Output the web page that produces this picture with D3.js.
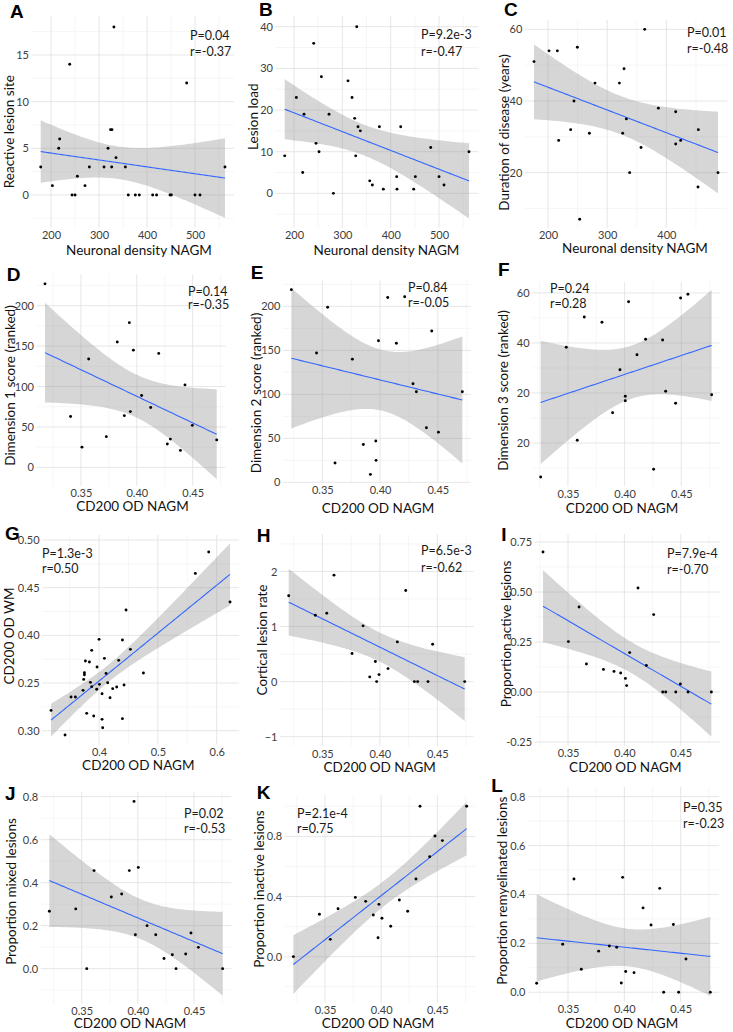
<!DOCTYPE html>
<html>
<head>
<meta charset="utf-8">
<script src="https://cdn.jsdelivr.net/npm/d3@7"></script>
<style>
  body { margin: 0; background: #fff; }
  svg text { font-family: Lato, "Open Sans", sans-serif; }
</style>
</head>
<body>
<svg id="fig" width="733" height="1032"></svg>
<script>
// --- values ---
const aX = [178.5, 202.8, 216, 218, 238.9, 243.8, 250, 254.9, 270.8, 279.9, 310.4, 318.8, 324, 327, 326.4, 331, 335.4, 354.9, 361, 375.7, 384, 411.8, 420, 448, 450.7, 482.6, 500, 510.4, 562.5];
const aY = [3, 1, 5, 6, 14, 0, 0, 2, 1, 3, 3, 5, 7, 7, 3, 18, 4, 3, 0, 0, 0, 0, 0, 0, 0, 12, 0, 0, 3];

const bX = [180.7, 204.8, 217.9, 220.7, 240.7, 245.5, 251.7, 256.6, 272.4, 281.4, 311.7, 320, 325.5, 327.6, 329.7, 332.4, 337.2, 356.6, 362.1, 376.6, 384.8, 412.4, 413.1, 420.7, 447.6, 451, 482.8, 500, 510.3, 562];
const bY = [9, 23, 5, 19, 36, 12, 10, 28, 19, 0, 27, 23, 18, 9, 40, 16, 15, 3, 2, 16, 1, 4, 1, 16, 1, 4, 11, 4, 2, 10];

const cX = [176.3, 201.7, 215.8, 218, 238.3, 243.9, 249.6, 253.5, 269.9, 279.4, 320.6, 326.2, 328.5, 332.4, 338, 357.2, 363.4, 386.5, 415.8, 415.8, 424.2, 453.5, 454.1, 487.3];
const cY = [51, 54, 54, 29, 32, 40, 55, 7, 31, 45, 45, 31, 49, 35, 20, 27, 60, 38, 37, 28, 29, 16, 32, 20];

const dX = [0.3178, 0.3407, 0.3509, 0.3569, 0.3727, 0.3825, 0.3888, 0.3933, 0.3942, 0.3969, 0.4043, 0.4124, 0.4196, 0.4273, 0.43, 0.439, 0.4431, 0.4497, 0.4715];
const dY = [227, 63, 25, 134, 38, 155, 64, 179, 69, 145, 89, 74, 141, 29, 35, 21, 102, 52, 34];

const eX = [0.3232, 0.345, 0.3546, 0.361, 0.376, 0.3855, 0.3916, 0.3963, 0.3965, 0.3986, 0.4066, 0.4141, 0.4213, 0.4285, 0.4314, 0.4401, 0.4447, 0.4505, 0.4712];
const eY = [219, 147, 199, 22, 140, 43, 9, 47, 25, 161, 210, 158, 211, 112, 103, 62, 172, 57, 103];

const fX = [0.3259, 0.3485, 0.3582, 0.3644, 0.38, 0.3894, 0.3959, 0.4006, 0.4006, 0.4035, 0.4109, 0.4185, 0.4256, 0.4335, 0.4362, 0.445, 0.4494, 0.4559, 0.4768];
const fY = [-13.6, 38.3, 1.1, 50.4, 48.3, 12.1, 29.3, 18.7, 16.9, 56.5, 35.3, 41.5, -10.5, 41.2, 20.7, 15.9, 58, 59.5, 19.3];

const gX = [0.3184, 0.3422, 0.3524, 0.3598, 0.3728, 0.3739, 0.3751, 0.3751, 0.3768, 0.379, 0.3836, 0.3853, 0.3875, 0.3875, 0.3909, 0.396, 0.3966, 0.4, 0.4006, 0.4051, 0.4051, 0.4062, 0.4091, 0.4119, 0.4147, 0.4187, 0.4232, 0.43, 0.4334, 0.4397, 0.4397, 0.4425, 0.4459, 0.4533, 0.4754, 0.5637, 0.5864, 0.6227];
const gY = [0.3213, 0.2955, 0.3353, 0.3353, 0.3423, 0.3538, 0.3587, 0.3608, 0.3731, 0.3182, 0.372, 0.3507, 0.3462, 0.3843, 0.3154, 0.3434, 0.3668, 0.3958, 0.3486, 0.3388, 0.3119, 0.3031, 0.3759, 0.3601, 0.3503, 0.3346, 0.3441, 0.3458, 0.3738, 0.3126, 0.3951, 0.3479, 0.4266, 0.3853, 0.3605, 0.465, 0.4874, 0.435];

const hX = [0.3207, 0.3439, 0.3538, 0.3601, 0.3758, 0.3854, 0.3912, 0.3961, 0.3972, 0.3993, 0.4071, 0.4152, 0.4225, 0.43, 0.4329, 0.4419, 0.4459, 0.4738];
const hY = [1.558, 1.206, 1.242, 1.933, 0.509, 1.012, 0.085, 0.364, 0, 0.127, 0.236, 0.721, 1.655, 0, 0, 0, 0.679, 0];

const iX = [0.3278, 0.3503, 0.3598, 0.3663, 0.3814, 0.3908, 0.3967, 0.4009, 0.402, 0.4047, 0.4121, 0.4195, 0.426, 0.434, 0.4367, 0.4456, 0.4497, 0.4565, 0.4772];
const iY = [0.70, 0.252, 0.425, 0.14, 0.113, 0.103, 0.095, 0.068, 0.032, 0.197, 0.52, 0.133, 0.387, 0, 0, 0, 0.04, 0, 0];

const jX = [0.3212, 0.3447, 0.3545, 0.361, 0.3764, 0.3856, 0.3924, 0.3966, 0.3978, 0.4004, 0.4082, 0.4159, 0.4233, 0.4307, 0.434, 0.4426, 0.4473, 0.4539, 0.4755];
const jY = [0.267, 0.278, 0, 0.456, 0.333, 0.347, 0.456, 0.778, 0.158, 0.471, 0.2, 0.158, 0.047, 0.065, 0, 0.068, 0.166, 0.099, 0];

const kX = [0.3218, 0.345, 0.3547, 0.3616, 0.377, 0.3862, 0.393, 0.3972, 0.398, 0.4007, 0.4085, 0.4162, 0.4236, 0.431, 0.4346, 0.4432, 0.4479, 0.4545, 0.4761];
const kY = [0, 0.282, 0.115, 0.319, 0.394, 0.368, 0.277, 0.126, 0.348, 0.255, 0.202, 0.377, 0.302, 0.517, 1.0, 0.665, 0.803, 0.772, 1.0];

const lX = [0.3222, 0.3453, 0.3553, 0.3618, 0.3772, 0.3867, 0.3932, 0.3973, 0.3985, 0.4012, 0.4086, 0.4166, 0.4237, 0.4314, 0.4349, 0.4435, 0.4482, 0.4547, 0.4763];
const lY = [0.037, 0.196, 0.463, 0.094, 0.168, 0.189, 0.184, 0.038, 0.47, 0.085, 0.08, 0.345, 0.275, 0.425, 0, 0.277, 0, 0.136, 0];

// --- tick values and labels ---
const densityTicks = [200, 300, 400, 500];
const densityTicksC = [200, 300, 400];
const nagmTicks = [0.35, 0.40, 0.45];
const nagmLabels = ["0.35", "0.40", "0.45"];
const gxTicks = [0.4, 0.5, 0.6];
const gxLabels = ["0.4", "0.5", "0.6"];
const gyTicks = [0.30, 0.35, 0.40, 0.45, 0.50];
const gyLabels = ["0.30", "0.25", "0.40", "0.45", "0.50"];
const fyTicks = [0, 20, 40, 60];
const fyLabels = ["20", "20", "40", "60"];
const iyTicks = [-0.25, 0, 0.25, 0.5, 0.75];
const iyLabels = ["-0.25", "0.00", "0.25", "0.50", "0.75"];
const propTicks = [0, 0.2, 0.4, 0.6, 0.8];
const propLabels = ["0.0", "0.2", "0.4", "0.6", "0.8"];
const kyTicks = [0, 0.4, 0.8];
const kyLabels = ["0.0", "0.4", "0.8"];

const letters = ["A", "B", "C", "D", "E", "F", "G", "H", "I", "J", "K", "L"];
const yTitles = ["Reactive lesion site", "Lesion load", "Duration of disease (years)",
  "Dimension 1 score (ranked)", "Dimension 2 score (ranked)", "Dimension 3 score (ranked)",
  "CD200 OD WM", "Cortical lesion rate", "Proportion active lesions",
  "Proportion mixed lesions", "Proportion inactive lesions", "Proportion remyelinated lesions"];
const pValues = ["P=0.04", "P=9.2e-3", "P=0.01", "P=0.14", "P=0.84", "P=0.24",
  "P=1.3e-3", "P=6.5e-3", "P=7.9e-4", "P=0.02", "P=2.1e-4", "P=0.35"];
const rValues = ["r=-0.37", "r=-0.47", "r=-0.48", "r=-0.35", "r=-0.05", "r=0.28",
  "r=0.50", "r=-0.62", "r=-0.70", "r=-0.53", "r=0.75", "r=-0.23"];

// layout of each small plot: box = [left, top, right, bottom]
const panels = [
  { xs: aX, ys: aY, box: [31.5, 15.7, 234.2, 228], yDom: [-3.54, 19.21], xt: densityTicks, yt: [0, 5, 10, 15],
    xTitle: "Neuronal density NAGM", letter: [10, 18.3], stat: [190, 36, 51.7], yT: [9.5, 131.7], xT: [139, 250] },
  { xs: bX, ys: bY, box: [275.5, 15.7, 478.2, 228], yDom: [-8.32, 42.64], xt: densityTicks, yt: [0, 10, 20, 30, 40],
    xTitle: "Neuronal density NAGM", letter: [259, 16], stat: [421, 34.3, 51.7], yT: [253, 116.7], xT: [386.5, 250] },
  { xs: cX, ys: cY, box: [524.8, 19.9, 727.2, 228.1], yDom: [4.52, 62.64], xt: densityTicksC, yt: [20, 40, 60],
    xTitle: "Neuronal density NAGM", letter: [504, 16], stat: [687, 32.7, 48.3], yT: [504, 132.5], xT: [635, 248.5] },
  { xs: dX, ys: dY, box: [36.4, 274.4, 225.3, 486], yDom: [-23.03, 238.7], xt: nagmTicks, xl: nagmLabels, yt: [0, 50, 100, 150, 200],
    xTitle: "CD200 OD NAGM", letter: [6.7, 281.3], stat: [188, 291.3, 304.7], yT: [10.5, 385.5], xT: [132.5, 506.5] },
  { xs: eX, ys: eY, box: [282.8, 280.5, 470.9, 483.2], yDom: [-1.0, 229.4], xt: nagmTicks, xl: nagmLabels, yt: [0, 50, 100, 150, 200],
    xTitle: "CD200 OD NAGM", letter: [250.7, 278.7], stat: [408, 288, 302.3], yT: [256.5, 393], xT: [378, 508] },
  { xs: fX, ys: fY, box: [532.1, 282, 720.2, 486.3], yDom: [-17.31, 64.38], xt: nagmTicks, xl: nagmLabels, yt: fyTicks, yl: fyLabels,
    xTitle: "CD200 OD NAGM", letter: [498, 276.3], stat: [550, 289, 304], yT: [503, 390.5], xT: [622, 508] },
  { xs: gX, ys: gY, box: [42.1, 534.8, 239, 744.5], yDom: [0.2855, 0.5055], xt: gxTicks, xl: gxLabels, yt: gyTicks, yl: gyLabels,
    xTitle: "CD200 OD NAGM", letter: [5, 540], stat: [42, 553.7, 568.7], yT: [9.3, 636], xT: [138.3, 765] },
  { xs: hX, ys: hY, box: [279.9, 534.3, 473.5, 746.3], yDom: [-1.175, 2.675], xt: nagmTicks, xl: nagmLabels, yt: [-1, 0, 1, 2],
    xTitle: "CD200 OD NAGM", letter: [256.7, 542], stat: [421, 551, 567.7], yT: [262, 640], xT: [379.7, 767] },
  { xs: iX, ys: iY, box: [534.6, 534, 719.8, 746], yDom: [-0.27, 0.79], xt: nagmTicks, xl: nagmLabels, yt: iyTicks, yl: iyLabels,
    xTitle: "CD200 OD NAGM", letter: [501.3, 541], stat: [667, 553.7, 569.3], yT: [506, 634], xT: [625.3, 767] },
  { xs: jX, ys: jY, box: [40.7, 791.7, 231.3, 1003.7], yDom: [-0.163, 0.823], xt: nagmTicks, xl: nagmLabels, yt: propTicks, yl: propLabels,
    xTitle: "CD200 OD NAGM", letter: [5, 800], stat: [184, 814, 828.3], yT: [11, 891.5], xT: [130, 1023.5] },
  { xs: kX, ys: kY, box: [284.7, 794.9, 475.3, 1002.8], yDom: [-0.307, 1.076], xt: nagmTicks, xl: nagmLabels, yt: kyTicks, yl: kyLabels,
    xTitle: "CD200 OD NAGM", letter: [256.7, 799], stat: [297, 814, 828.3], yT: [259, 889], xT: [378, 1023.5] },
  { xs: lX, ys: lY, box: [528, 786.9, 719, 1002], yDom: [-0.04, 0.84], xt: nagmTicks, xl: nagmLabels, yt: propTicks, yl: propLabels,
    xTitle: "CD200 OD NAGM", letter: [491.3, 792.3], stat: [683, 807.3, 823.3], yT: [502, 890.7], xT: [622, 1023.5] }
];

// Student t quantile (0.975) by Cornish-Fisher expansion
function tQuant(df) {
  const z = 1.959964;
  const g1 = (z ** 3 + z) / 4;
  const g2 = (5 * z ** 5 + 16 * z ** 3 + 3 * z) / 96;
  const g3 = (3 * z ** 7 + 19 * z ** 5 + 17 * z ** 3 - 15 * z) / 384;
  return z + g1 / df + g2 / df ** 2 + g3 / df ** 3;
}

// linear fit with 95% confidence band, like geom_smooth(method = "lm")
function lmFit(xs, ys) {
  const n = xs.length;
  const mx = d3.mean(xs), my = d3.mean(ys);
  let sxx = 0, sxy = 0;
  xs.forEach((x, i) => { sxx += (x - mx) ** 2; sxy += (x - mx) * (ys[i] - my); });
  const b = sxy / sxx, a = my - b * mx;
  const sse = d3.sum(xs, (x, i) => (ys[i] - a - b * x) ** 2);
  const s = Math.sqrt(sse / (n - 2));
  const t = tQuant(n - 2);
  const [x0, x1] = d3.extent(xs);
  return d3.range(80).map(k => {
    const x = x0 + (x1 - x0) * k / 79;
    const yh = a + b * x;
    const se = s * Math.sqrt(1 / n + (x - mx) ** 2 / sxx);
    return { x: x, y: yh, lo: yh - t * se, hi: yh + t * se };
  });
}

function minorTicks(ticks, dom) {
  const step = ticks[1] - ticks[0];
  const out = [];
  for (let k = -1; k < ticks.length; k++) {
    const v = (k < 0 ? ticks[0] : ticks[k]) + (k < 0 ? -step / 2 : step / 2);
    if (v > dom[0] && v < dom[1]) out.push(v);
  }
  return out;
}

const svg = d3.select("#fig");

panels.forEach((p, idx) => {
  const [left, top, right, bottom] = p.box;
  const ext = d3.extent(p.xs);
  const pad = (ext[1] - ext[0]) * 0.05;
  const x = d3.scaleLinear().domain([ext[0] - pad, ext[1] + pad]).range([left, right]);
  const y = d3.scaleLinear().domain(p.yDom).range([bottom, top]);

  const g = svg.append("g").attr("class", `panel_${letters[idx]}`);
  const clipId = `clip_${idx}`;
  g.append("clipPath").attr("id", clipId)
    .append("rect").attr("x", left).attr("y", top)
    .attr("width", right - left).attr("height", bottom - top);

  // grid
  const grid = g.append("g");
  grid.selectAll(".xmin").data(minorTicks(p.xt, x.domain())).join("line")
    .attr("x1", d => x(d)).attr("x2", d => x(d)).attr("y1", top).attr("y2", bottom)
    .style("stroke", "#f0f0f0").style("stroke-width", 0.6);
  grid.selectAll(".ymin").data(minorTicks(p.yt, p.yDom)).join("line")
    .attr("y1", d => y(d)).attr("y2", d => y(d)).attr("x1", left).attr("x2", right)
    .style("stroke", "#f0f0f0").style("stroke-width", 0.6);
  grid.selectAll(".xmaj").data(p.xt).join("line")
    .attr("x1", d => x(d)).attr("x2", d => x(d)).attr("y1", top).attr("y2", bottom)
    .style("stroke", "#e3e3e3").style("stroke-width", 0.9);
  grid.selectAll(".ymaj").data(p.yt).join("line")
    .attr("y1", d => y(d)).attr("y2", d => y(d)).attr("x1", left).attr("x2", right)
    .style("stroke", "#e3e3e3").style("stroke-width", 0.9);

  // smooth
  const fit = lmFit(p.xs, p.ys);
  const body = g.append("g").attr("clip-path", `url(#${clipId})`);
  body.append("path").datum(fit)
    .attr("d", d3.area().x(d => x(d.x)).y0(d => y(d.lo)).y1(d => y(d.hi)))
    .style("fill", "#999999").style("fill-opacity", 0.4);
  body.append("path").datum(fit)
    .attr("d", d3.line().x(d => x(d.x)).y(d => y(d.y)))
    .style("fill", "none").style("stroke", "#3366FF").style("stroke-width", 1.1);

  // points
  g.selectAll("circle").data(p.xs.map((v, i) => [v, p.ys[i]])).join("circle")
    .attr("cx", d => x(d[0])).attr("cy", d => y(d[1])).attr("r", 1.45)
    .style("fill", "#000");

  // axes (labels only)
  const xAxis = d3.axisBottom(x).tickValues(p.xt).tickSize(0).tickPadding(3.5);
  if (p.xl) xAxis.tickFormat((d, i) => p.xl[i]);
  const xg = g.append("g").attr("transform", `translate(0,${bottom})`).call(xAxis);
  const yAxis = d3.axisLeft(y).tickValues(p.yt).tickSize(0).tickPadding(2.5);
  if (p.yl) yAxis.tickFormat((d, i) => p.yl[i]);
  else yAxis.tickFormat(d3.format("d"));
  const yg = g.append("g").attr("transform", `translate(${left},0)`).call(yAxis);
  [xg, yg].forEach(ax => {
    ax.select(".domain").remove();
    ax.selectAll("text").style("font-family", "Lato, sans-serif")
      .style("font-size", "11px").style("fill", "#3d3d3d");
  });

  // titles
  g.append("text").attr("x", p.xT[0]).attr("y", p.xT[1]).attr("dy", "0.35em")
    .attr("text-anchor", "middle").style("font-size", "13.5px").style("fill", "#111")
    .text(p.xTitle);
  g.append("text").attr("transform", `translate(${p.yT[0]},${p.yT[1]}) rotate(-90)`)
    .attr("dy", "0.35em").attr("text-anchor", "middle")
    .style("font-size", "13.5px").style("fill", "#111").text(yTitles[idx]);

  // stats
  g.append("text").attr("x", p.stat[0]).attr("y", p.stat[1]).attr("dy", "0.35em")
    .style("font-size", "12.5px").style("fill", "#1a1a1a").text(pValues[idx]);
  g.append("text").attr("x", p.stat[0]).attr("y", p.stat[2]).attr("dy", "0.35em")
    .style("font-size", "12.5px").style("fill", "#1a1a1a").text(rValues[idx]);

  // panel letter
  g.append("text").attr("x", p.letter[0]).attr("y", p.letter[1])
    .style("font-family", "'Liberation Sans', Arial, sans-serif")
    .style("font-weight", "bold").style("font-size", "19px").style("fill", "#000")
    .text(letters[idx]);
});
</script>
</body>
</html>
